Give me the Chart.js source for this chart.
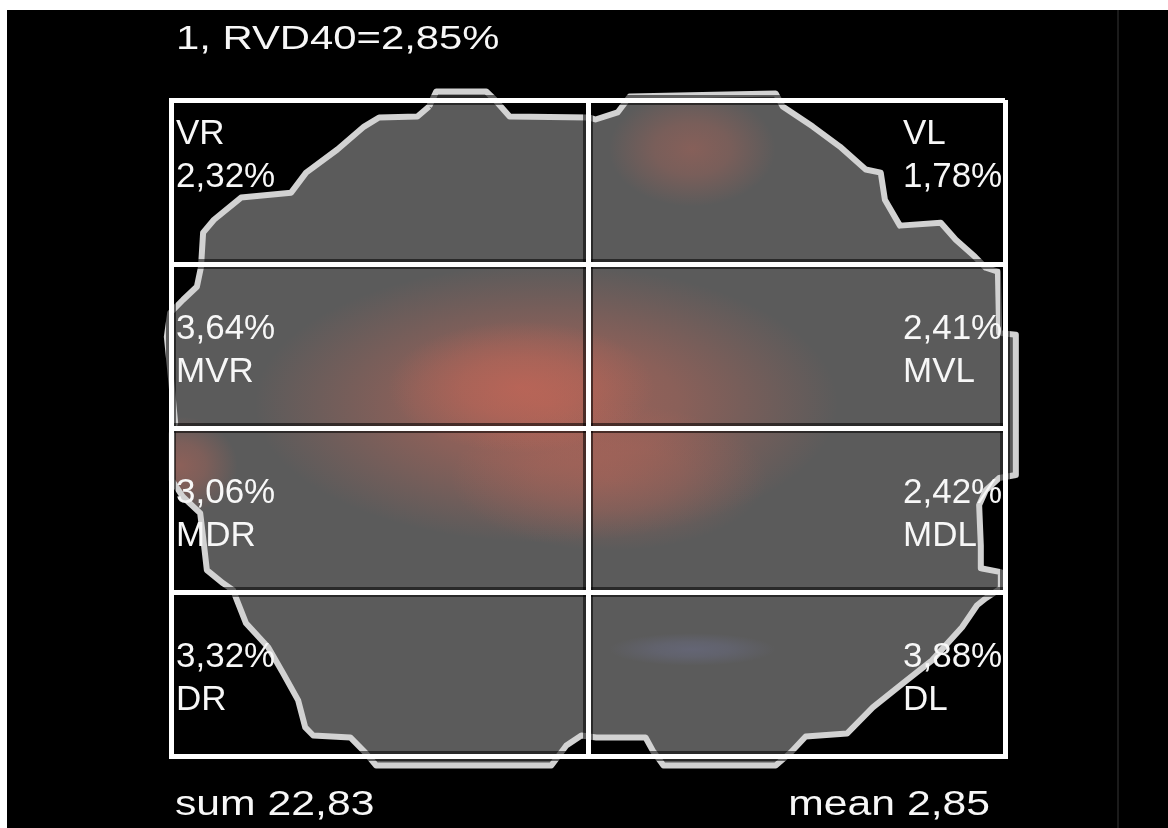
<!DOCTYPE html>
<html>
<head>
<meta charset="utf-8">
<script src="https://cdn.jsdelivr.net/npm/chart.js@4.4.1/dist/chart.umd.min.js"></script>
<style>
  html, body { margin: 0; padding: 0; background: #fff; }
  canvas { display: block; }
</style>
</head>
<body>
<canvas id="map" width="1168" height="828"></canvas>
<script>
// regions of the slice, read left->right, top->bottom
const regions = ["VR", "VL", "MVR", "MVL", "MDR", "MDL", "DR", "DL"];
const regionValues = [2.32, 1.78, 3.64, 2.41, 3.06, 2.42, 3.32, 3.88];
const colEdges = [0, 1, 2];
const rowEdges = [0, 1, 2, 3, 4];
const sliceNo = 1;
const threshold = 40;

// section outline, x 0..2, y 0..4 (grid units)
const outline = [
  [0.619, 0.040], [0.636, -0.052], [0.756, -0.052], [0.776, -0.003], [0.812, 0.101],
  [1.004, 0.107], [1.018, 0.119], [1.071, 0.076], [1.100, -0.021], [1.450, -0.040],
  [1.467, 0.040], [1.539, 0.162], [1.604, 0.284], [1.666, 0.424], [1.702, 0.443],
  [1.712, 0.608], [1.748, 0.766], [1.846, 0.748], [1.882, 0.852], [1.928, 0.956],
  [1.954, 1.023], [1.983, 1.047], [1.986, 1.420], [2.026, 1.432], [2.026, 2.287],
  [1.986, 2.305], [1.954, 2.379], [1.938, 2.470], [1.942, 2.715], [1.942, 2.855],
  [1.990, 2.879], [1.990, 2.977], [1.954, 3.038], [1.933, 3.081], [1.897, 3.215],
  [1.825, 3.417], [1.755, 3.557], [1.683, 3.704], [1.621, 3.863], [1.522, 3.881],
  [1.486, 3.979], [1.450, 4.058], [1.181, 4.058], [1.155, 3.966], [1.138, 3.887],
  [1.020, 3.887], [0.984, 3.875], [0.948, 3.936], [0.912, 4.058], [0.492, 4.058],
  [0.466, 3.979], [0.430, 3.887], [0.341, 3.875], [0.322, 3.826], [0.305, 3.661],
  [0.269, 3.496], [0.233, 3.337], [0.180, 3.191], [0.158, 3.050], [0.149, 2.989],
  [0.125, 2.947], [0.086, 2.867], [0.077, 2.666], [0.070, 2.519], [0.029, 2.421],
  [0.002, 2.318], [0.002, 2.031], [0.010, 1.969], [-0.002, 1.646], [-0.010, 1.444],
  [-0.002, 1.298], [0.029, 1.218], [0.062, 1.139], [0.072, 1.017], [0.077, 0.809],
  [0.103, 0.730], [0.168, 0.595], [0.288, 0.565], [0.324, 0.443], [0.399, 0.302],
  [0.463, 0.162], [0.499, 0.107], [0.591, 0.101], [0.619, 0.040]
];

// hot areas (level > 0 red, < 0 bluish)
const hotX = [0.90, 0.84, 1.05, 1.25, 0.02, 1.25];
const hotY = [1.85, 1.75, 2.30, 0.30, 2.23, 3.35];
const hotRx = [0.70, 0.32, 0.38, 0.20, 0.14, 0.20];
const hotRy = [0.85, 0.40, 0.45, 0.35, 0.30, 0.10];
const hotLevel = [0.55, 0.50, 0.30, 0.35, 0.40, -0.30];

const fmt = v => v.toFixed(2).replace(".", ",");
const sum = regionValues.reduce((a, b) => a + b, 0);
const mean = sum / regionValues.length;

function stretchText(ctx, text, x, y, size, sx, align) {
  ctx.save();
  ctx.font = size + "px 'Liberation Sans', Arial, sans-serif";
  ctx.fillStyle = "#f7f7f7";
  ctx.textBaseline = "alphabetic";
  ctx.textAlign = "left";
  let w = ctx.measureText(text).width * sx;
  ctx.translate(align === "right" ? x - w : x, y);
  ctx.scale(sx, 1);
  ctx.fillText(text, 0, 0);
  ctx.restore();
}

const backdrop = {
  id: "backdrop",
  beforeDraw(chart) {
    const { ctx, width, height } = chart;
    ctx.save();
    ctx.fillStyle = "#fff";
    ctx.fillRect(0, 0, width, height);
    ctx.fillStyle = "#000";
    ctx.fillRect(7, 10, width - 7, height - 10);
    ctx.fillStyle = "#1b1b1b";
    ctx.fillRect(1117, 10, 2, height - 10);
    ctx.restore();
  }
};

const section = {
  id: "section",
  beforeDatasetDraw(chart, args) {
    const pts = args.meta.data;
    const { ctx } = chart;
    const xs = chart.scales.x, ys = chart.scales.y;
    ctx.save();
    ctx.beginPath();
    pts.forEach((p, i) => (i ? ctx.lineTo(p.x, p.y) : ctx.moveTo(p.x, p.y)));
    ctx.closePath();
    ctx.fillStyle = "#5b5b5b";
    ctx.fill();
    ctx.clip();
    hotX.forEach((hx, i) => {
      const cx = xs.getPixelForValue(hx), cy = ys.getPixelForValue(hotY[i]);
      const rx = Math.abs(xs.getPixelForValue(hx + hotRx[i]) - cx);
      const ry = Math.abs(ys.getPixelForValue(hotY[i] + hotRy[i]) - cy);
      const lv = hotLevel[i];
      const rgb = lv >= 0 ? "214,104,86" : "120,125,175";
      const a = Math.abs(lv);
      ctx.save();
      ctx.translate(cx, cy);
      ctx.scale(1, ry / rx);
      const g = ctx.createRadialGradient(0, 0, 0, 0, 0, rx);
      g.addColorStop(0, `rgba(${rgb},${a})`);
      g.addColorStop(0.45, `rgba(${rgb},${a * 0.7})`);
      g.addColorStop(1, `rgba(${rgb},0)`);
      ctx.fillStyle = g;
      ctx.beginPath();
      ctx.arc(0, 0, rx, 0, Math.PI * 2);
      ctx.fill();
      ctx.restore();
    });
    ctx.restore();
  },
  afterDatasetsDraw(chart) {
    // dark seam under the white grid
    const { ctx, chartArea: a } = chart;
    const xs = chart.scales.x, ys = chart.scales.y;
    ctx.save();
    ctx.strokeStyle = "rgba(0,0,0,0.55)";
    ctx.lineWidth = 10;
    colEdges.forEach(v => {
      const px = xs.getPixelForValue(v);
      ctx.beginPath(); ctx.moveTo(px, a.top); ctx.lineTo(px, a.bottom); ctx.stroke();
    });
    rowEdges.forEach(v => {
      const py = ys.getPixelForValue(v);
      ctx.beginPath(); ctx.moveTo(a.left, py); ctx.lineTo(a.right, py); ctx.stroke();
    });
    ctx.restore();
  }
};

const labels = {
  id: "labels",
  afterDraw(chart) {
    const { ctx } = chart;
    const xs = chart.scales.x, ys = chart.scales.y;
    regions.forEach((name, i) => {
      const col = i % 2, row = Math.floor(i / 2);
      const top = ys.getPixelForValue(rowEdges[row]);
      const tx = col === 0 ? xs.getPixelForValue(colEdges[0]) + 5 : xs.getPixelForValue(colEdges[2]) - 102;
      const val = fmt(regionValues[i]) + "%";
      const lines = row === 0 ? [name, val] : [val, name];
      const b1 = top + (row === 0 ? 44 : 75);
      stretchText(ctx, lines[0], tx, b1, 35, 1.0);
      stretchText(ctx, lines[1], tx, b1 + 43, 35, 1.0);
    });
    const left = xs.getPixelForValue(colEdges[0]);
    stretchText(ctx, `${sliceNo}, RVD${threshold}=${fmt(mean)}%`, left + 5, 49, 34, 1.23);
    stretchText(ctx, "sum " + fmt(sum), left + 4, 815, 35, 1.22);
    stretchText(ctx, "mean " + fmt(mean), 990, 815, 35, 1.22, "right");
  }
};

const gridOpts = { color: "#fff", lineWidth: 5, drawTicks: false, z: 1 };
const borderOpts = { display: true, color: "#fff", width: 5, z: 1 };

new Chart(document.getElementById("map"), {
  type: "line",
  data: {
    datasets: [
      {
        label: "section",
        data: outline.map(p => ({ x: p[0], y: p[1] })),
        borderColor: "#d2d2d2",
        borderWidth: 6,
        borderJoinStyle: "round",
        pointRadius: 0,
        tension: 0,
        fill: false,
        clip: false
      }
    ]
  },
  options: {
    responsive: false,
    animation: false,
    devicePixelRatio: 1,
    layout: { padding: { left: 171, right: 163, top: 100, bottom: 72 } },
    plugins: { legend: { display: false }, tooltip: { enabled: false }, title: { display: false } },
    scales: {
      x: {
        type: "linear", min: 0, max: 2,
        ticks: { display: false, stepSize: 1 },
        grid: gridOpts, border: borderOpts
      },
      y: {
        type: "linear", min: 0, max: 4, reverse: true,
        ticks: { display: false, stepSize: 1 },
        grid: gridOpts, border: borderOpts
      }
    }
  },
  plugins: [backdrop, section, labels]
});
</script>
</body>
</html>
